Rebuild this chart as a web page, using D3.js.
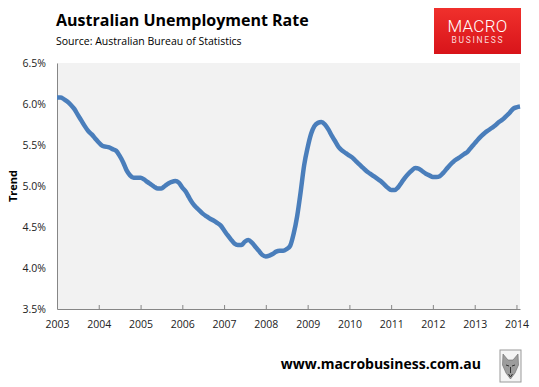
<!DOCTYPE html>
<html>
<head>
<meta charset="utf-8">
<script src="https://cdn.jsdelivr.net/npm/d3@7"></script>
<style>
  body { margin: 0; background: #fff; }
  svg { display: block; font-family: "Open Sans", "DejaVu Sans", sans-serif; }
</style>
</head>
<body>
<div id="chart"></div>
<script>
// Australian unemployment rate, trend series, monthly from Jan 2003
const startMonth = "2003-01"
const trend = [
  6.08, 6.08, 6.06, 6.03, 5.99, 5.94, 5.87, 5.80, 5.73, 5.67, 5.63, 5.58,
  5.53, 5.49, 5.48, 5.47, 5.45, 5.43, 5.37, 5.29, 5.19, 5.13, 5.10, 5.10,
  5.10, 5.08, 5.05, 5.02, 4.99, 4.97, 4.97, 5.00, 5.03, 5.05, 5.06, 5.04,
  4.98, 4.93, 4.86, 4.79, 4.74, 4.70, 4.66, 4.63, 4.60, 4.58, 4.55, 4.52,
  4.46, 4.40, 4.35, 4.30, 4.28, 4.28, 4.32, 4.34, 4.31, 4.26, 4.21, 4.16,
  4.14, 4.15, 4.17, 4.20, 4.21, 4.21, 4.23, 4.27, 4.42, 4.63, 4.93, 5.25,
  5.47, 5.64, 5.73, 5.77, 5.78, 5.75, 5.69, 5.61, 5.54, 5.47, 5.43, 5.40,
  5.37, 5.34, 5.30, 5.26, 5.22, 5.18, 5.15, 5.12, 5.09, 5.06, 5.02, 4.98,
  4.95, 4.95, 4.98, 5.04, 5.10, 5.15, 5.19, 5.22, 5.21, 5.18, 5.15, 5.13,
  5.11, 5.11, 5.12, 5.16, 5.21, 5.26, 5.30, 5.33, 5.36, 5.39, 5.42, 5.47,
  5.52, 5.57, 5.61, 5.65, 5.68, 5.71, 5.74, 5.78, 5.81, 5.85, 5.89, 5.94,
  5.96, 5.97
]
const yTicks = [3.5, 4.0, 4.5, 5.0, 5.5, 6.0, 6.5]
const xTickYears = [2003, 2004, 2005, 2006, 2007, 2008, 2009, 2010, 2011, 2012, 2013, 2014]

const W = 539, H = 387
const plot = { left: 57, right: 520, top: 63, bottom: 309 }

const parseMonth = d3.timeParse("%Y-%m")
const t0 = parseMonth(startMonth)
const data = trend.map((v, i) => ({ date: d3.timeMonth.offset(t0, i), value: v }))

const svg = d3.select("#chart").append("svg")
  .attr("width", W).attr("height", H)

// title + source
svg.append("text")
  .attr("x", 56).attr("y", 26)
  .style("font-size", "16px").style("font-weight", "bold").style("fill", "#000")
  .text("Australian Unemployment Rate")

svg.append("text")
  .attr("x", 56).attr("y", 45)
  .style("font-size", "10.5px").style("fill", "#000")
  .text("Source: Australian Bureau of Statistics")

// red logo box top right
const defs = svg.append("defs")
const grad = defs.append("linearGradient").attr("id", "logoGrad")
  .attr("x1", 0).attr("y1", 0).attr("x2", 0).attr("y2", 1)
grad.append("stop").attr("offset", "0%").attr("stop-color", "#f0302c")
grad.append("stop").attr("offset", "100%").attr("stop-color", "#d8141a")

const logo = svg.append("g").attr("transform", "translate(434,8)")
logo.append("rect").attr("width", 87).attr("height", 46).attr("fill", "url(#logoGrad)")
logo.append("text")
  .attr("x", 43.5).attr("y", 24).attr("text-anchor", "middle")
  .style("font-size", "17px").style("fill", "#fff").style("font-weight", "300")
  .style("font-family", "Roboto, sans-serif").style("letter-spacing", "0.3px")
  .text("MACRO")
logo.append("text")
  .attr("x", 44).attr("y", 34.5).attr("text-anchor", "middle")
  .style("font-size", "8.5px").style("fill", "#fbdada")
  .style("font-family", "Roboto, sans-serif").style("letter-spacing", "1.7px")
  .text("BUSINESS")

// scales
const x = d3.scaleTime()
  .domain([t0, data[data.length - 1].date])
  .range([plot.left, plot.right])
const y = d3.scaleLinear().domain([3.5, 6.5]).range([plot.bottom, plot.top])

// plot background
svg.append("rect")
  .attr("x", plot.left).attr("y", plot.top)
  .attr("width", plot.right - plot.left).attr("height", plot.bottom - plot.top)
  .attr("fill", "#f2f2f2")

// axes
const xAxis = svg.append("g")
  .attr("transform", `translate(0,${plot.bottom})`)
  .call(d3.axisBottom(x)
    .tickValues(xTickYears.map(yr => new Date(yr, 0, 1)))
    .tickFormat(d3.timeFormat("%Y"))
    .tickSizeInner(-4).tickSizeOuter(0).tickPadding(12))
xAxis.select(".domain").attr("stroke", "#868686")
xAxis.selectAll(".tick line").attr("stroke", "#868686")
xAxis.selectAll("text").style("font-size", "10.5px").style("fill", "#222")
  .style("font-family", "Open Sans, sans-serif")

const yAxis = svg.append("g")
  .attr("transform", `translate(${plot.left},0)`)
  .call(d3.axisLeft(y)
    .tickValues(yTicks)
    .tickFormat(d => d.toFixed(1) + "%")
    .tickSize(0).tickPadding(11))
yAxis.select(".domain").attr("stroke", "#868686")
yAxis.selectAll("text").style("font-size", "10.5px").style("fill", "#222")
  .style("font-family", "Open Sans, sans-serif")

// y axis title
svg.append("text")
  .attr("transform", "translate(17,186) rotate(-90)")
  .attr("text-anchor", "middle")
  .style("font-size", "11px").style("font-weight", "bold").style("fill", "#000")
  .text("Trend")

// the line
const line = d3.line()
  .x(d => x(d.date))
  .y(d => y(d.value))
  .curve(d3.curveMonotoneX)

svg.append("path")
  .datum(data)
  .attr("d", line)
  .attr("fill", "none")
  .attr("stroke", "#4a7ebb")
  .attr("stroke-width", 4.5)
  .attr("stroke-linejoin", "round")

// footer url
svg.append("text")
  .attr("x", 481).attr("y", 369).attr("text-anchor", "end")
  .style("font-size", "14px").style("font-weight", "bold").style("fill", "#000")
  .text("www.macrobusiness.com.au")

// little wolf badge
const badge = svg.append("g").attr("transform", "translate(500,350)")
badge.append("rect").attr("width", 21).attr("height", 32)
  .attr("fill", "#f4f4f4").attr("stroke", "#9a9a9a").attr("stroke-width", 1)
badge.append("path")
  .attr("d", "M3,4 L8,10 L13,10 L18,4 L18.5,15 L15,23 L10.5,29 L6,23 L2.5,15 Z")
  .attr("fill", "#9d9d9d").attr("stroke", "#6a6a6a").attr("stroke-width", 0.6)
badge.append("path")
  .attr("d", "M6,15 L9,16 M15,15 L12,16 M8.5,24 L10.5,27 L12.5,24 M10.5,17 L10.5,23")
  .attr("fill", "none").attr("stroke", "#333").attr("stroke-width", 1)
</script>
</body>
</html>
